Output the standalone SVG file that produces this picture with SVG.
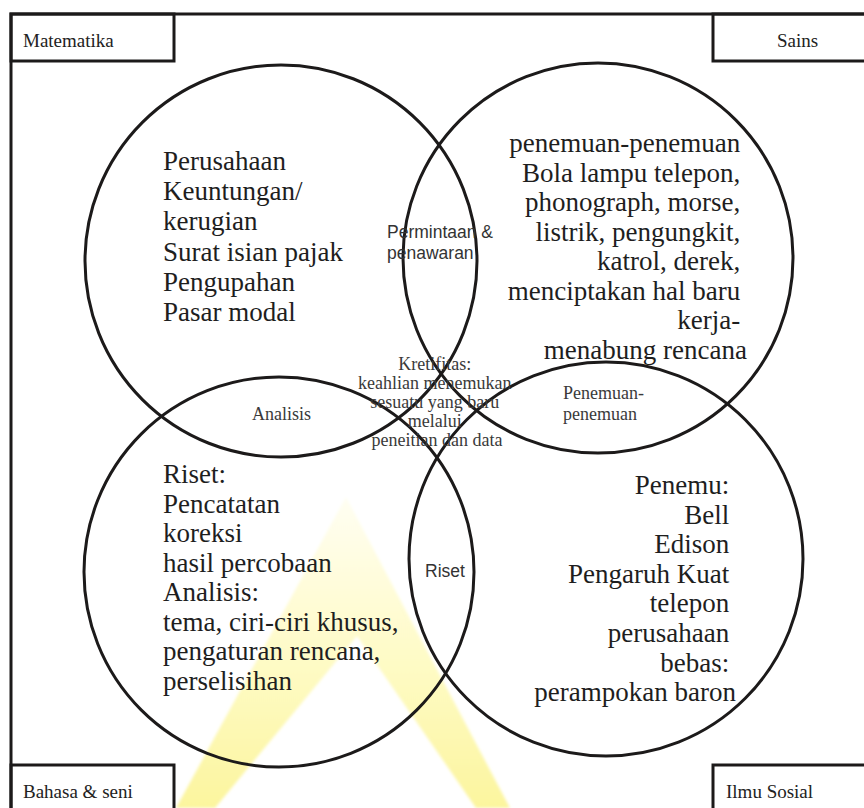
<svg xmlns="http://www.w3.org/2000/svg" width="864" height="808" viewBox="0 0 864 808">
  <defs>
    <linearGradient id="markFill" gradientUnits="userSpaceOnUse" x1="0" y1="497" x2="0" y2="808">
      <stop offset="0" stop-color="#fffef2"/>
      <stop offset="0.5" stop-color="#fefbc8"/>
      <stop offset="1" stop-color="#fcf59e"/>
    </linearGradient>
    <filter id="soft" x="-5%" y="-5%" width="110%" height="110%">
      <feGaussianBlur stdDeviation="1.5"/>
    </filter>
    <style>
      .frame { fill: none; stroke: #1c1a1a; stroke-width: 3; }
      .ring { fill: none; stroke: #1c1a1a; stroke-width: 3; }
      .tag { font-family: "Liberation Serif", "Times New Roman", serif; font-size: 19px; fill: #222; }
      .body { font-family: "Liberation Serif", "Times New Roman", serif; font-size: 27px; fill: #1e1e1e; }
      .body-r { text-anchor: end; }
      .lens { font-family: "Liberation Serif", "Times New Roman", serif; font-size: 18px; fill: #3a3a3a; }
      .lens-c { text-anchor: middle; }
      .sans { font-family: "Liberation Sans", Arial, sans-serif; font-size: 17.5px; fill: #333; }
    </style>
  </defs>

  <rect width="864" height="808" fill="#ffffff"/>

  <!-- soft yellow triangle mark behind the diagram -->
  <path d="M346,497 L176,808 L510,808 Z M357,636 L476,808 L215,808 Z" fill="url(#markFill)" fill-rule="evenodd" filter="url(#soft)"/>

  <!-- outer frame -->
  <rect class="frame" x="11" y="14" width="870" height="812"/>

  <g id="box-matematika">
    <rect class="frame" x="11" y="14" width="163" height="47"/>
    <text class="tag" x="23" y="47">Matematika</text>
  </g>
  <g id="box-sains">
    <rect class="frame" x="713" y="14" width="160" height="47"/>
    <text class="tag" x="777" y="47">Sains</text>
  </g>
  <g id="box-bahasa-seni">
    <rect class="frame" x="11" y="765" width="163" height="60"/>
    <text class="tag" x="23" y="798">Bahasa &amp; seni</text>
  </g>
  <g id="box-ilmu-sosial">
    <rect class="frame" x="713" y="765" width="160" height="60"/>
    <text class="tag" x="726" y="798">Ilmu Sosial</text>
  </g>

  <g id="circle-matematika">
    <circle class="ring" cx="281" cy="261" r="196"/>
    <text class="body" x="163" y="170">
      <tspan x="163" y="170">Perusahaan</tspan>
      <tspan x="163" y="200.2">Keuntungan/</tspan>
      <tspan x="163" y="230.4">kerugian</tspan>
      <tspan x="163" y="260.6">Surat isian pajak</tspan>
      <tspan x="163" y="290.8">Pengupahan</tspan>
      <tspan x="163" y="321">Pasar modal</tspan>
    </text>
  </g>

  <g id="circle-sains">
    <circle class="ring" cx="598" cy="258" r="195"/>
    <text class="body body-r" x="747" y="152">
      <tspan x="747" y="152">penemuan-penemuan</tspan>
      <tspan x="747" y="181.5">Bola lampu telepon,</tspan>
      <tspan x="747" y="211">phonograph, morse,</tspan>
      <tspan x="747" y="240.5">listrik, pengungkit,</tspan>
      <tspan x="747" y="270">katrol, derek,</tspan>
      <tspan x="747" y="299.5">menciptakan hal baru</tspan>
      <tspan x="747" y="329">kerja-</tspan>
      <tspan x="747" y="358.5">menabung rencana</tspan>
    </text>
  </g>

  <g id="circle-bahasa-seni">
    <circle class="ring" cx="279" cy="572" r="195"/>
    <text class="body" x="163" y="483">
      <tspan x="163" y="483">Riset:</tspan>
      <tspan x="163" y="512.5">Pencatatan</tspan>
      <tspan x="163" y="542">koreksi</tspan>
      <tspan x="163" y="571.5">hasil percobaan</tspan>
      <tspan x="163" y="601">Analisis:</tspan>
      <tspan x="163" y="630.5">tema, ciri-ciri khusus,</tspan>
      <tspan x="163" y="660">pengaturan rencana,</tspan>
      <tspan x="163" y="689.5">perselisihan</tspan>
    </text>
  </g>

  <g id="circle-ilmu-sosial">
    <circle class="ring" cx="606" cy="559" r="197"/>
    <text class="body body-r" x="736" y="494">
      <tspan x="736" y="494">Penemu:</tspan>
      <tspan x="736" y="523.6">Bell</tspan>
      <tspan x="736" y="553.2">Edison</tspan>
      <tspan x="736" y="582.8">Pengaruh Kuat</tspan>
      <tspan x="736" y="612.4">telepon</tspan>
      <tspan x="736" y="642">perusahaan</tspan>
      <tspan x="736" y="671.6">bebas:</tspan>
      <tspan x="736" y="701.2">perampokan baron</tspan>
    </text>
  </g>

  <!-- overlap labels -->
  <g id="overlap-matematika-sains">
    <text class="sans" x="387" y="238">
      <tspan x="387" y="238">Permintaan &amp;</tspan>
      <tspan x="387" y="259">penawaran</tspan>
    </text>
  </g>
  <g id="overlap-matematika-bahasa">
    <text class="lens" x="252" y="420">Analisis</text>
  </g>
  <g id="overlap-sains-sosial">
    <text class="lens" x="563" y="399">
      <tspan x="563" y="399">Penemuan-</tspan>
      <tspan x="563" y="420">penemuan</tspan>
    </text>
  </g>
  <g id="overlap-bahasa-sosial">
    <text class="sans" x="425" y="577">Riset</text>
  </g>
  <g id="overlap-center">
    <text class="lens lens-c" x="437" y="370">
      <tspan x="437" y="370">Kretifitas:</tspan>
      <tspan x="437" y="389">keahlian menemukan</tspan>
      <tspan x="437" y="408">sesuatu yang baru</tspan>
      <tspan x="437" y="427">melalui</tspan>
      <tspan x="437" y="446">peneitian dan data</tspan>
    </text>
  </g>
</svg>
